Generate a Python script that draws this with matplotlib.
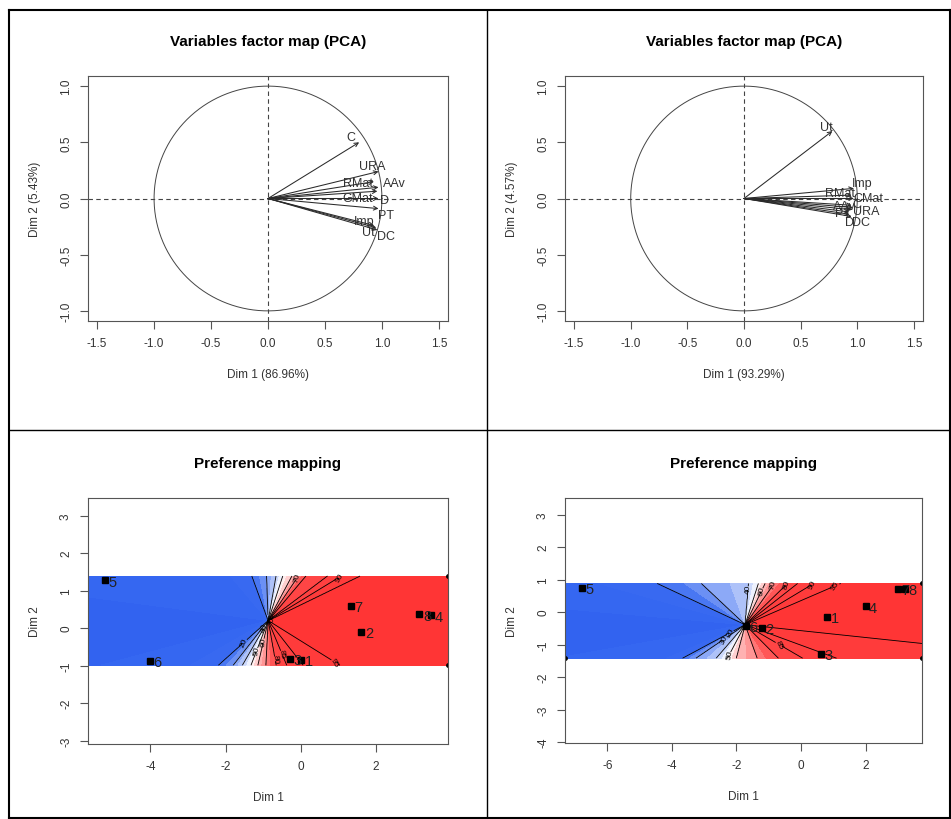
import numpy as np
import matplotlib
matplotlib.use('Agg')
import matplotlib.pyplot as plt
from matplotlib.colors import LinearSegmentedColormap
from matplotlib.lines import Line2D

plt.rcParams['font.family'] = ['Liberation Sans', 'DejaVu Sans']
plt.rcParams['axes.unicode_minus'] = False

W, H = 951, 820

# ---- PCA variable maps (top row) ----
vars_l = ['C', 'URA', 'RMat', 'AAv', 'GMat', 'D', 'PT', 'Imp', 'Ut', 'DC']
d1_l = [0.80, 0.97, 0.93, 0.97, 0.96, 0.97, 0.97, 0.93, 0.95, 0.96]
d2_l = [0.50, 0.24, 0.15, 0.10, 0.065, 0.0, -0.09, -0.24, -0.26, -0.28]
lab1_l = [0.73, 0.915, 0.79, 1.11, 0.79, 1.02, 1.04, 0.84, 0.88, 1.04]
lab2_l = [0.55, 0.285, 0.14, 0.14, 0.0, -0.01, -0.15, -0.20, -0.30, -0.33]

vars_r = ['Ut', 'Imp', 'RMat', 'CMat', 'AAv', 'C', 'PT', 'URA', 'D', 'DC']
d1_r = [0.78, 0.97, 0.95, 0.97, 0.95, 0.96, 0.93, 0.95, 0.93, 0.95]
d2_r = [0.60, 0.09, 0.03, 0.0, -0.06, -0.08, -0.12, -0.10, -0.14, -0.16]
lab1_r = [0.73, 1.04, 0.85, 1.10, 0.89, 1.00, 0.87, 1.08, 0.93, 1.035]
lab2_r = [0.64, 0.14, 0.045, 0.0, -0.07, -0.05, -0.13, -0.115, -0.21, -0.21]

# ---- Preference maps (bottom row) ----
prods_l = ['1', '2', '3', '4', '5', '6', '7', '8']
px_l = [0.0, 1.61, -0.29, 3.45, -5.21, -4.02, 1.33, 3.15]
py_l = [-0.84, -0.10, -0.81, 0.34, 1.28, -0.87, 0.59, 0.37]
center_l = (-0.87, 0.20)
grid_x_l = (-5.66, 3.91)
grid_y_l = (-0.99, 1.39)
# direction from the centre (degrees) -> % of consumers
ang_l = [-180, -165, -150, -138, -128, -120, -111, -103, -93, -80, -60, -32, 0,
         26, 37, 50, 62, 72, 80, 92, 110, 130, 165]
pct_l = [8, 10, 15, 20, 30, 40, 50, 60, 70, 80, 88, 95, 99,
         95, 85, 80, 60, 50, 40, 30, 20, 15, 12]

prods_r = ['1', '2', '3', '4', '5', '6', '7', '8']
px_r = [0.81, -1.20, 0.61, 2.00, -6.79, -1.71, 3.01, 3.22]
py_r = [-0.14, -0.48, -1.28, 0.18, 0.75, -0.42, 0.71, 0.72]
center_r = (-1.73, -0.39)
grid_x_r = (-7.31, 3.75)
grid_y_r = (-1.42, 0.88)
ang_r = [-180, -160, -152, -146, -131, -118, -105, -70, -45, -30, -20, -6, 0,
         20, 28, 38, 50, 64, 72, 85, 110, 137, 155, 170]
pct_r = [8, 12, 20, 30, 40, 50, 60, 70, 80, 85, 90, 95, 98,
         97, 92, 85, 75, 60, 50, 40, 35, 30, 20, 12]

line_levels = [20, 30, 40, 50, 60, 70, 80, 85, 90, 95]

cmap = LinearSegmentedColormap.from_list(
    'pref', [(0.0, '#2d5ff0'), (0.2, '#3a6bf1'), (0.5, '#ffffff'),
             (0.8, '#ff4848'), (1.0, '#ff3333')])

fig = plt.figure(figsize=(W / 100, H / 100), dpi=100)


def px_axes(left, top, right, bottom):
    return fig.add_axes([left / W, 1 - bottom / H, (right - left) / W, (bottom - top) / H])


def style(ax, title, xlabel, ylabel):
    ax.set_title(title, fontsize=11, fontweight='bold', pad=22)
    ax.set_xlabel(xlabel, fontsize=8.5, color='#333333', labelpad=14)
    ax.set_ylabel(ylabel, fontsize=8.5, color='#333333', labelpad=14)
    for s in ax.spines.values():
        s.set_color('#555555')
        s.set_linewidth(0.8)
    ax.tick_params(direction='out', length=5.5, width=0.8, color='#555555',
                   labelsize=8.5, labelcolor='#333333', pad=6)
    plt.setp(ax.get_yticklabels(), rotation=90, va='center')


def var_map(ax, names, d1, d2, lx, ly, title, xlabel, ylabel):
    t = np.linspace(0, 2 * np.pi, 400)
    ax.plot(np.cos(t), np.sin(t), color='#444444', lw=0.7)
    ax.axhline(0, color='#444444', lw=0.8, ls=(0, (4, 3)))
    ax.axvline(0, color='#444444', lw=0.8, ls=(0, (4, 3)))
    for n, x, y, tx, ty in zip(names, d1, d2, lx, ly):
        ax.annotate('', xy=(x, y), xytext=(0, 0),
                    arrowprops=dict(arrowstyle='->', lw=0.75, color='#2a2a2a',
                                    shrinkA=0, shrinkB=0, mutation_scale=7))
        ax.text(tx, ty, n, fontsize=9, color='#333333', ha='center', va='center')
    ax.set_xlim(-1.58, 1.58)
    ax.set_ylim(-1.09, 1.09)
    ax.set_xticks([-1.5, -1.0, -0.5, 0.0, 0.5, 1.0, 1.5])
    ax.set_yticks([-1.0, -0.5, 0.0, 0.5, 1.0])
    ax.set_xticklabels(['-1.5', '-1.0', '-0.5', '0.0', '0.5', '1.0', '1.5'])
    ax.set_yticklabels(['-1.0', '-0.5', '0.0', '0.5', '1.0'])
    style(ax, title, xlabel, ylabel)


def pref_map(ax, names, xs, ys, center, gx, gy, angs, pcts, xlim, ylim, xticks, yticks, corners):
    X, Y = np.meshgrid(np.linspace(gx[0], gx[1], 500), np.linspace(gy[0], gy[1], 200))
    theta = np.degrees(np.arctan2(Y - center[1], X - center[0]))
    Z = np.interp(theta, angs, pcts, period=360)
    ax.contourf(X, Y, Z, levels=np.arange(0, 101, 5), cmap=cmap, vmin=0, vmax=100)
    cs = ax.contour(X, Y, Z, levels=line_levels, colors='black', linewidths=0.6)
    ax.clabel(cs, fmt='%d', fontsize=6, inline=True, inline_spacing=2)
    ax.plot(xs, ys, 's', color='black', ms=5)
    for n, x, y in zip(names, xs, ys):
        ax.annotate(n, (x, y), xytext=(2.5, -1), textcoords='offset points',
                    fontsize=10.5, color='#222222', ha='left', va='center')
    cx, cy = zip(*corners)
    ax.plot(cx, cy, 'o', color='black', ms=2.5)
    ax.set_xlim(*xlim)
    ax.set_ylim(*ylim)
    ax.set_xticks(xticks)
    ax.set_yticks(yticks)
    style(ax, 'Preference mapping', 'Dim 1', 'Dim 2')


ax1 = px_axes(88, 77, 448, 322)
var_map(ax1, vars_l, d1_l, d2_l, lab1_l, lab2_l, 'Variables factor map (PCA)',
        'Dim 1 (86.96%)', 'Dim 2 (5.43%)')
ax2 = px_axes(565, 77, 923, 322)
var_map(ax2, vars_r, d1_r, d2_r, lab1_r, lab2_r, 'Variables factor map (PCA)',
        'Dim 1 (93.29%)', 'Dim 2 (4.57%)')

ax3 = px_axes(88, 499, 448, 745)
pref_map(ax3, prods_l, px_l, py_l, center_l, grid_x_l, grid_y_l, ang_l, pct_l,
         (-5.66, 3.91), (-3.09, 3.47), [-4, -2, 0, 2], [-3, -2, -1, 0, 1, 2, 3],
         [(grid_x_l[1], grid_y_l[1]), (grid_x_l[1], grid_y_l[0])])
ax4 = px_axes(565, 499, 922, 744)
pref_map(ax4, prods_r, px_r, py_r, center_r, grid_x_r, grid_y_r, ang_r, pct_r,
         (-7.31, 3.75), (-4.03, 3.51), [-6, -4, -2, 0, 2], [-4, -3, -2, -1, 0, 1, 2, 3],
         [(grid_x_r[0], grid_y_r[0]), (grid_x_r[1], grid_y_r[1]), (grid_x_r[1], grid_y_r[0])])


# table borders
def hline(y, x0, x1, lw):
    fig.add_artist(Line2D([x0 / W, x1 / W], [1 - y / H, 1 - y / H], color='black', lw=lw))


def vline(x, y0, y1, lw):
    fig.add_artist(Line2D([x / W, x / W], [1 - y0 / H, 1 - y1 / H], color='black', lw=lw))


hline(11, 9, 950, 1.5)
hline(818.5, 9, 950, 1.5)
hline(431, 9, 950, 1.0)
vline(9, 11, 819, 1.5)
vline(949.5, 11, 819, 1.5)
vline(487, 11, 819, 1.0)

fig.savefig('out.png', dpi=100)
